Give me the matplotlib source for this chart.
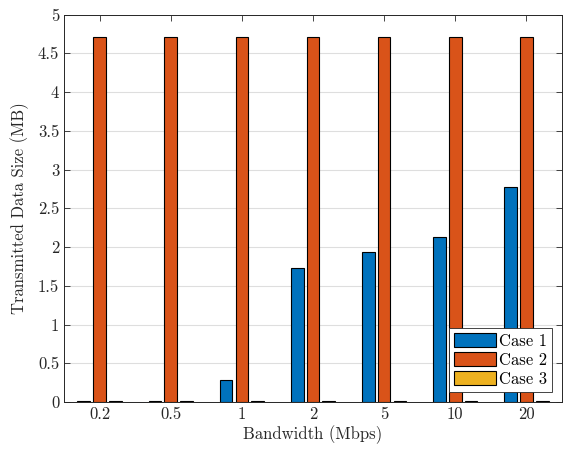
import numpy as np
import matplotlib
matplotlib.use("Agg")
import matplotlib.pyplot as plt

plt.rcParams['font.family'] = ['cmr10', 'DejaVu Serif']
plt.rcParams['axes.formatter.use_mathtext'] = True
plt.rcParams['mathtext.fontset'] = 'cm'

# Data
bandwidth_labels = ['0.2', '0.5', '1', '2', '5', '10', '20']
case1 = [0.01, 0.01, 0.28, 1.73, 1.935, 2.135, 2.78]
case2 = [4.715, 4.715, 4.715, 4.715, 4.715, 4.715, 4.715]
case3 = [0.01, 0.01, 0.01, 0.01, 0.01, 0.01, 0.01]
series = [case1, case2, case3]
series_names = ['Case 1', 'Case 2', 'Case 3']
colors = ['#0072BD', '#D95319', '#EDB120']

fig = plt.figure(figsize=(5.63, 4.53), dpi=100)
ax = fig.add_axes([64 / 563, 51 / 453, 498 / 563, 387.5 / 453])

x = np.arange(1, len(bandwidth_labels) + 1)
offset = 0.222
width = 0.178
for i, (vals, name, c) in enumerate(zip(series, series_names, colors)):
    ax.bar(x + (i - 1) * offset, vals, width, color=c, edgecolor='black',
           linewidth=0.8, label=name, zorder=3)

ax.set_xlim(0.5, 7.5)
ax.set_ylim(0, 5)
ax.set_xticks(x)
ax.set_xticklabels(bandwidth_labels)
ax.set_yticks(np.arange(0, 5.01, 0.5))
ax.set_yticklabels(['0', '0.5', '1', '1.5', '2', '2.5', '3', '3.5', '4', '4.5', '5'])
ax.tick_params(direction='in', top=True, right=True, length=4, width=0.6,
               labelsize=12, colors='#262626')
ax.yaxis.grid(True, color='#dedede', linewidth=0.8, zorder=0)
ax.set_axisbelow(True)
for s in ax.spines.values():
    s.set_linewidth(0.7)
    s.set_color('#262626')

ax.set_xlabel('Bandwidth (Mbps)', fontsize=12, color='#262626', labelpad=2)
ax.set_ylabel('Transmitted Data Size (MB)', fontsize=12, color='#262626', labelpad=6)

leg = ax.legend(loc='lower right', fontsize=12, fancybox=False, framealpha=1,
                edgecolor='#262626', borderpad=0.3, labelspacing=0.2,
                handlelength=2.5, handleheight=0.9, handletextpad=0.2,
                borderaxespad=0.6)
leg.get_frame().set_linewidth(0.6)

fig.savefig('out.png', dpi=100)
